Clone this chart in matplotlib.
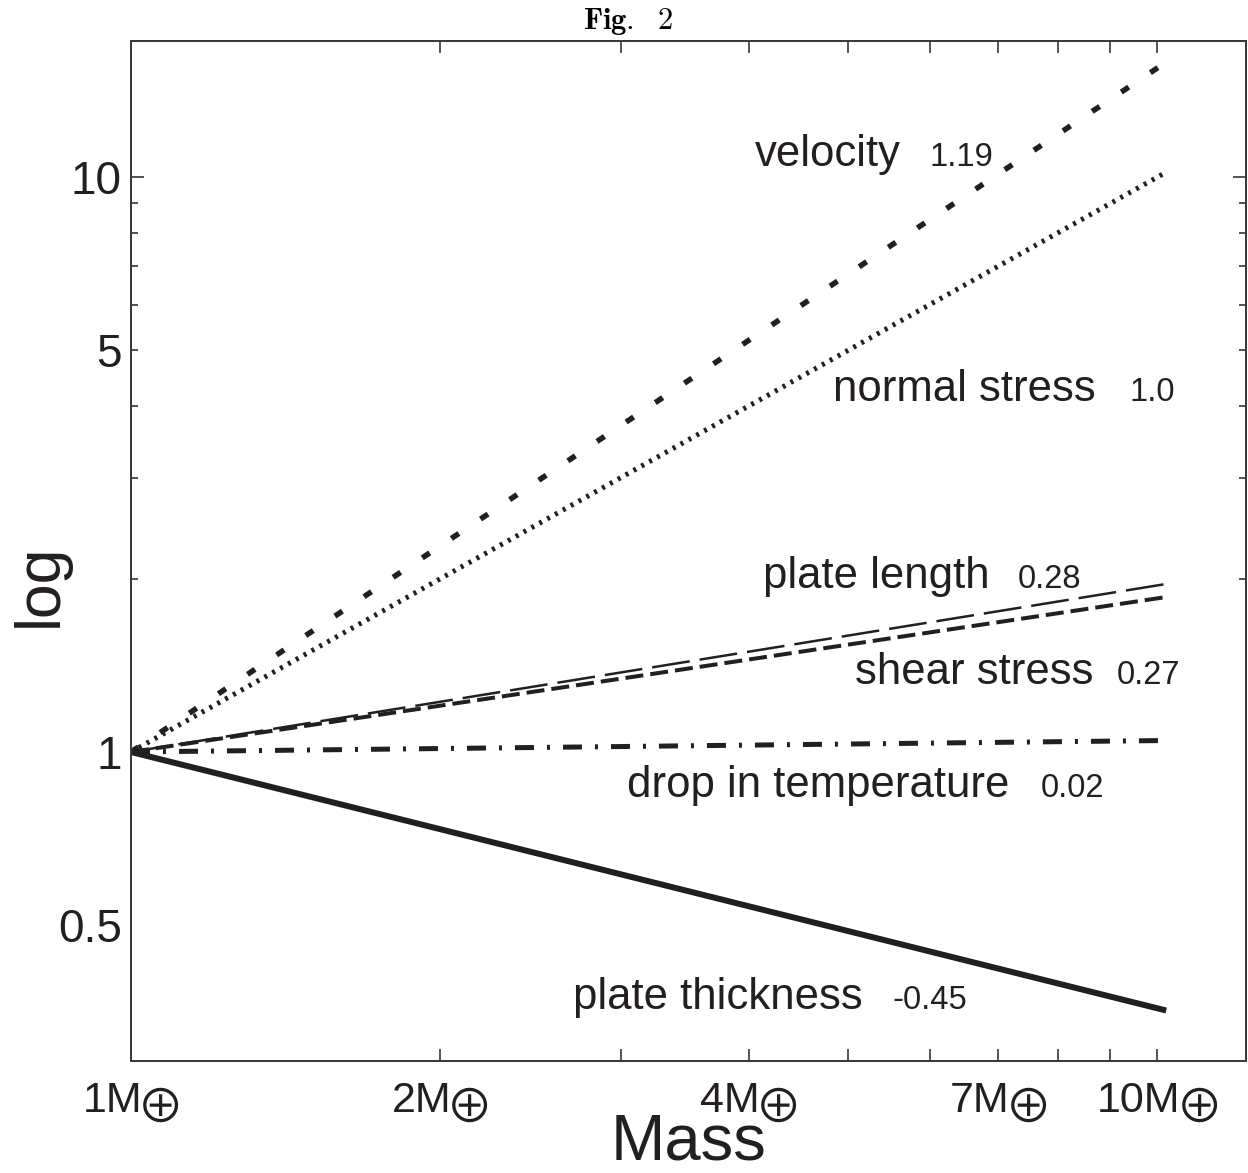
import matplotlib
matplotlib.use("Agg")
import matplotlib.pyplot as plt
import matplotlib.transforms as mtransforms
import numpy as np

# Data: scaling exponents of the quantities with planet mass (log-log)
quantities = ["velocity", "normal stress", "plate length", "shear stress",
              "drop in temperature", "plate thickness"]
exponents = ["1.19", "1.0", "0.28", "0.27", "0.02", "-0.45"]
mass = [1.0, 10.2]
velocity = [1.0, 15.85]
normal_stress = [1.0, 10.2]
plate_length = [1.0, 1.96]
shear_stress = [1.0, 1.86]
drop_in_temperature = [1.0, 1.047]
plate_thickness = [1.0, 0.355]

xtick_values = [1, 2, 4, 7, 10]
xtick_labels = ["1M", "2M", "4M", "7M", "10M"]
earth_sign = "\u2295"

INK = "#231f20"
W, H, DPI = 1248, 1173, 100


def pt(px):
    # pixels -> points at 100 dpi
    return px * 72.0 / DPI


plt.rcParams["font.family"] = ["Liberation Sans", "DejaVu Sans"]
plt.rcParams["lines.scale_dashes"] = False

fig = plt.figure(figsize=(W / DPI, H / DPI), dpi=DPI)
ax = fig.add_axes([131 / W, 1 - 1061 / H, (1246 - 131) / W, (1061 - 41) / H])
ax.set_xscale("log")
ax.set_yscale("log")

styles = [
    dict(lw=pt(5.5), dashes=(pt(9), pt(26))),                # velocity
    dict(lw=pt(5), dashes=(pt(3), pt(6))),                   # normal stress
    dict(lw=pt(2.5), dashes=(pt(38), pt(10))),               # plate length
    dict(lw=pt(4), dashes=(pt(18), pt(7))),                  # shear stress
    dict(lw=pt(5), dashes=(pt(19), pt(13), pt(3), pt(13))),  # drop in temp
    dict(lw=pt(6), ls="-"),                                  # plate thickness
]
series = [velocity, normal_stress, plate_length, shear_stress,
          drop_in_temperature, plate_thickness]
for ys, st in zip(series, styles):
    ax.plot(mass, ys, color=INK, solid_capstyle="butt",
            dash_capstyle="butt", **st)

ax.set_xlim(1, 12.2)
ax.set_ylim(0.29, 17.25)

# x ticks: every integer mass, labels drawn by hand below
ax.xaxis.set_major_locator(matplotlib.ticker.FixedLocator(xtick_values))
ax.xaxis.set_major_formatter(matplotlib.ticker.NullFormatter())
ax.xaxis.set_minor_locator(matplotlib.ticker.FixedLocator([3, 5, 6, 8, 9]))
ax.xaxis.set_minor_formatter(matplotlib.ticker.NullFormatter())
ax.tick_params(axis="x", which="both", direction="in", length=pt(12),
               width=pt(1.5), top=True, bottom=True, colors=INK)

# y ticks: long tick at 10, short minor ticks 2..9
ax.yaxis.set_major_locator(matplotlib.ticker.FixedLocator([1, 10]))
ax.yaxis.set_major_formatter(matplotlib.ticker.FixedFormatter(["1", "10"]))
ax.yaxis.set_minor_locator(matplotlib.ticker.FixedLocator(
    [0.5, 2, 3, 4, 5, 6, 7, 8, 9]))
ax.yaxis.set_minor_formatter(matplotlib.ticker.FixedFormatter(
    ["0.5", "", "", "", "5", "", "", "", ""]))
ax.tick_params(axis="y", which="major", direction="in", length=pt(13),
               width=pt(1.5), left=True, right=True, labelsize=33,
               pad=pt(9), colors=INK)
ax.tick_params(axis="y", which="minor", direction="in", length=pt(7),
               width=pt(1.5), left=True, right=True, labelsize=33,
               pad=pt(9), colors=INK)
fig.canvas.draw()
for t in ax.yaxis.get_major_ticks()[:1] + ax.yaxis.get_minor_ticks()[:1]:
    t.tick1line.set_visible(False)
    t.tick2line.set_visible(False)

for s in ax.spines.values():
    s.set_color("#3a3a3a")
    s.set_linewidth(pt(2))

# x tick labels "NM" followed by a lowered earth sign, centred on the tick
renderer = fig.canvas.get_renderer()
trans = mtransforms.blended_transform_factory(ax.transData, ax.transAxes)
label_y = (1061 - 1112) / 1020
for xv, lab in zip(xtick_values, xtick_labels):
    t1 = ax.text(xv, label_y, lab, transform=trans, fontsize=31,
                 color=INK, ha="left", va="baseline")
    t2 = ax.text(xv, label_y, earth_sign, transform=trans, fontsize=34,
                 family=["Noto Sans CJK JP", "DejaVu Sans"], color=INK,
                 ha="left", va="baseline")
    w1 = t1.get_window_extent(renderer).width
    w2 = t2.get_window_extent(renderer).width
    shift = -(w1 + w2 - 10) / 2
    t1.set_transform(mtransforms.offset_copy(trans, fig, x=shift, y=0,
                                             units="dots"))
    t2.set_transform(mtransforms.offset_copy(trans, fig, x=shift + w1 - 5,
                                             y=-11, units="dots"))

ax.set_xlabel("Mass", fontsize=47, color=INK, va="baseline")
ax.xaxis.set_label_coords(0.5, (1061 - 1160) / 1020)
ax.set_ylabel("log", fontsize=45, color=INK, va="center", ha="center")
ax.yaxis.set_label_coords((40 - 131) / 1115, (1061 - 585) / 1020)

fig.text(628 / W, 1 - 29 / H, r"$\mathbf{Fig.}\ \ \mathbf{2}$",
         math_fontfamily="cm", fontsize=22, ha="center", va="baseline",
         color="black")

# curve annotations: (name left x, number left x, baseline y) in pixels
label_pos = [(755, 930, 166), (833, 1130, 401), (763, 1018, 588),
             (855, 1117, 684), (627, 1041, 797), (573, 893, 1009)]
for name, expo, (xn, xe, yb) in zip(quantities, exponents, label_pos):
    fig.text(xn / W, 1 - yb / H, name, fontsize=31.5, color=INK,
             va="baseline", ha="left")
    fig.text(xe / W, 1 - yb / H, expo, fontsize=23.5, color=INK,
             va="baseline", ha="left")

fig.savefig("out.png", dpi=DPI)
